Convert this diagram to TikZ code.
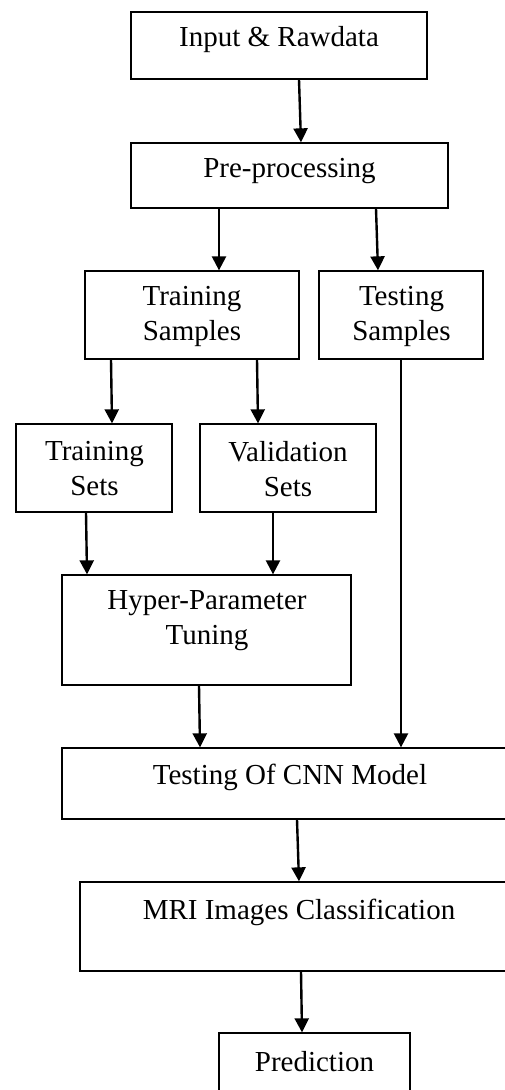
\documentclass[tikz,border=0pt]{standalone}
\usepackage{fontspec}
\setmainfont{Liberation Serif}
\usetikzlibrary{arrows.meta}
\begin{document}
\begin{tikzpicture}[x=1pt,y=-1pt,
  box/.style={draw=black,line width=1.3pt,rectangle,inner sep=0pt},
  txt/.style={inner sep=0pt,align=center,font=\fontsize{29}{35}\selectfont},
  arr/.style={line width=2.4pt,-{Triangle[length=14pt,width=14pt]}}]
\useasboundingbox (0,0) rectangle (505,1090);
\clip (0,0) rectangle (505,1090);
\node[box,minimum width=296pt,minimum height=67pt] (in) at (279,45.5) {};
\node[txt] (tin) at (279,40) {Input \& Rawdata};
\node[box,minimum width=317pt,minimum height=65pt] (pre) at (289.5,175.5) {};
\node[txt] (tpre) at (289.5,171) {Pre-processing};
\node[box,minimum width=214pt,minimum height=88pt] (trs) at (192,315) {};
\node[txt] (ttrs) at (192,316) {Training\\Samples};
\node[box,minimum width=164pt,minimum height=88pt] (tes) at (401,315) {};
\node[txt] (ttes) at (401.5,316) {Testing\\Samples};
\node[box,minimum width=156pt,minimum height=88pt] (tset) at (94,468) {};
\node[txt] (ttset) at (94.5,469) {Training\\Sets};
\node[box,minimum width=176pt,minimum height=88pt] (vset) at (288,468) {};
\node[txt] (tvset) at (288,469) {Validation\\Sets};
\node[box,minimum width=289pt,minimum height=110pt] (hyp) at (206.5,630) {};
\node[txt] (thyp) at (207,621) {Hyper-Parameter\\Tuning};
\node[box,minimum width=458pt,minimum height=71pt] (cnn) at (291,783.5) {};
\node[txt] (tcnn) at (290,777) {Testing Of CNN Model};
\node[box,minimum width=438pt,minimum height=89pt] (mri) at (299,926.5) {};
\node[txt] (tmri) at (299,912) {MRI Images Classification};
\node[box,minimum width=191pt,minimum height=70pt] (pred) at (314.5,1068) {};
\node[txt] (tpred) at (314.5,1062) {Prediction};
\draw[arr] (in.south -| 299,0) -- (pre.north -| 301,0);
\draw[arr] (pre.south -| 219,0) -- (trs.north -| 219,0);
\draw[arr] (pre.south -| 376,0) -- (tes.north -| 378,0);
\draw[arr] (trs.south -| 111,0) -- (tset.north -| 112,0);
\draw[arr] (trs.south -| 257,0) -- (vset.north -| 258,0);
\draw[arr] (tes.south -| 401,0) -- (cnn.north -| 401,0);
\draw[arr] (tset.south -| 86,0) -- (hyp.north -| 87,0);
\draw[arr] (vset.south -| 273,0) -- (hyp.north -| 273,0);
\draw[arr] (hyp.south -| 199,0) -- (cnn.north -| 200,0);
\draw[arr] (cnn.south -| 297,0) -- (mri.north -| 299,0);
\draw[arr] (mri.south -| 301,0) -- (pred.north -| 302,0);
\end{tikzpicture}
\end{document}
